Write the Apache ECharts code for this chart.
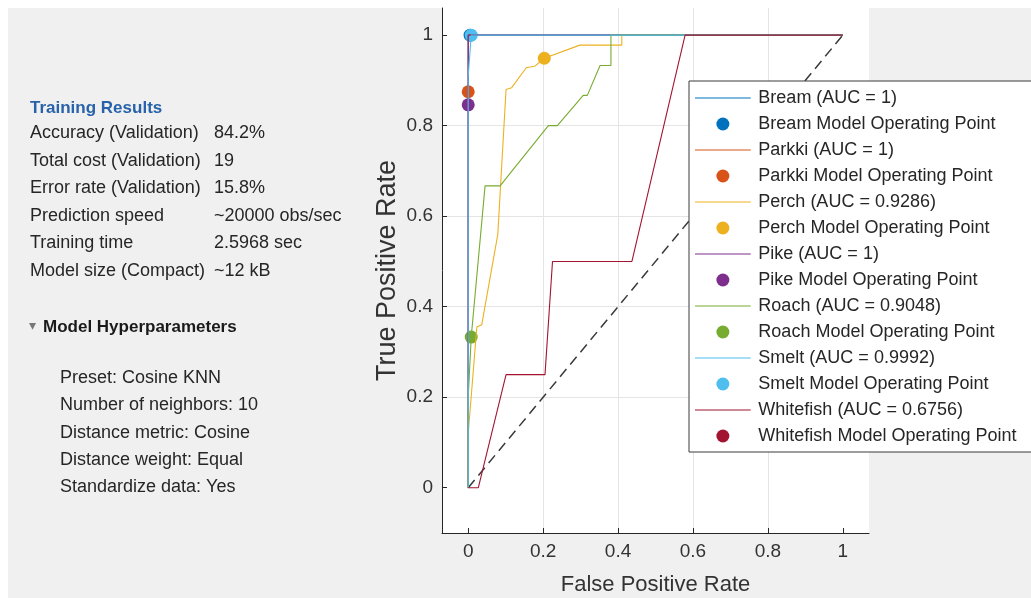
<!DOCTYPE html>
<html>
<head>
<meta charset="utf-8">
<script src="https://cdn.jsdelivr.net/npm/echarts@6/dist/echarts.min.js"></script>
<style>
  html, body { margin: 0; padding: 0; background: #fff; }
  #chart { width: 1031px; height: 598px; }
</style>
</head>
<body>
<div id="chart"></div>
<script>
// classes and their AUC (as shown in the legend)
const classNames = ['Bream', 'Parkki', 'Perch', 'Pike', 'Roach', 'Smelt', 'Whitefish'];
const aucValues = ['1', '1', '0.9286', '1', '0.9048', '0.9992', '0.6756'];

// ROC curves, [FPR, TPR]
const breamRoc = [[0, 0], [0, 1], [1, 1]];
const parkkiRoc = [[0, 0], [0, 1], [1, 1]];
const perchRoc = [[0, 0], [0, 0.12], [0.023, 0.355], [0.036, 0.36], [0.079, 0.56], [0.101, 0.88],
  [0.116, 0.884], [0.155, 0.928], [0.179, 0.932], [0.203, 0.949], [0.298, 0.978], [0.41, 0.978],
  [0.41, 1], [1, 1]];
const pikeRoc = [[0, 0], [0, 1], [1, 1]];
const roachRoc = [[0, 0], [0, 0.2], [0.008, 0.333], [0.045, 0.667], [0.085, 0.667], [0.214, 0.8],
  [0.238, 0.8], [0.307, 0.867], [0.318, 0.867], [0.352, 0.933], [0.381, 0.933], [0.381, 1], [1, 1]];
const smeltRoc = [[0, 0], [0, 0.91], [0.008, 1], [1, 1]];
const whitefishRoc = [[0, 0], [0.027, 0], [0.101, 0.25], [0.205, 0.25], [0.225, 0.5], [0.437, 0.5],
  [0.579, 1], [1, 1]];

// model operating points (Whitefish one is not visible in the plot)
const operatingPoints = [[0.005, 1], [0, 0.875], [0.203, 0.949], [0, 0.846], [0.008, 0.333], [0.008, 1], null];

const chanceLine = [[0, 0], [1, 1]];
const tickValues = [0, 0.2, 0.4, 0.6, 0.8, 1];

// side panel text
const trainingLabels = ['Accuracy (Validation)', 'Total cost (Validation)', 'Error rate (Validation)',
  'Prediction speed', 'Training time', 'Model size (Compact)'];
const trainingValues = ['84.2%', '19', '15.8%', '~20000 obs/sec', '2.5968 sec', '~12 kB'];
const hyperparameterLines = ['Preset: Cosine KNN', 'Number of neighbors: 10', 'Distance metric: Cosine',
  'Distance weight: Equal', 'Standardize data: Yes'];

const rocCurves = [breamRoc, parkkiRoc, perchRoc, pikeRoc, roachRoc, smeltRoc, whitefishRoc];
const classColors = ['#0072BD', '#D95319', '#EDB120', '#7E2F8E', '#77AC30', '#4DBEEE', '#A2142F'];

const fontFamily = '"Liberation Sans", Arial, sans-serif';
// thin horizontal bar; the two empty moves keep the bounding box 60x14 so it is not stretched
const lineIcon = 'path://M0,0L0,0M0,6.4L60,6.4L60,7.6L0,7.6ZM60,14L60,14';
const chart = echarts.init(document.getElementById('chart'));

const series = [{
  name: 'chance',
  type: 'line',
  data: chanceLine,
  symbol: 'none',
  silent: true,
  lineStyle: { color: '#3a3a3a', width: 1.5, type: [10, 6] }
}];
const legendData = [];

classNames.forEach((name, i) => {
  const lineName = `${name} (AUC = ${aucValues[i]})`;
  const pointName = `${name} Model Operating Point`;
  legendData.push({ name: lineName, icon: lineIcon }, { name: pointName, icon: 'circle' });
  series.push({
    name: lineName,
    type: 'line',
    data: rocCurves[i],
    symbol: 'none',
    color: classColors[i],
    itemStyle: { color: classColors[i] },
    lineStyle: { color: classColors[i], width: 1.1 }
  });
  series.push({
    name: pointName,
    type: 'scatter',
    data: operatingPoints[i] ? [operatingPoints[i]] : [],
    symbol: 'circle',
    symbolSize: 13,
    color: classColors[i],
    itemStyle: { color: classColors[i], opacity: 1 }
  });
});

const graphic = [
  { type: 'rect', shape: { x: 0, y: 0, width: 1031, height: 8 }, style: { fill: '#fff' }, silent: true },
  { type: 'rect', shape: { x: 0, y: 0, width: 8, height: 598 }, style: { fill: '#fff' }, silent: true },
  {
    type: 'text', x: 30, y: 108,
    style: { text: 'Training Results', font: `bold 17px ${fontFamily}`, fill: '#2762aa', verticalAlign: 'middle' }
  }
];
trainingLabels.forEach((label, i) => {
  const y = 133 + i * 27.6;
  graphic.push({
    type: 'text', x: 30, y: y,
    style: { text: label, font: `18px ${fontFamily}`, fill: '#262626', verticalAlign: 'middle' }
  });
  graphic.push({
    type: 'text', x: 214, y: y,
    style: { text: trainingValues[i], font: `18px ${fontFamily}`, fill: '#262626', verticalAlign: 'middle' }
  });
});
graphic.push({
  type: 'text', x: 29, y: 326,
  style: { text: '▾', font: `14px "DejaVu Sans"`, fill: '#777', verticalAlign: 'middle' }
});
graphic.push({
  type: 'text', x: 43, y: 327,
  style: { text: 'Model Hyperparameters', font: `bold 17px ${fontFamily}`, fill: '#1a1a1a', verticalAlign: 'middle' }
});
hyperparameterLines.forEach((line, i) => {
  graphic.push({
    type: 'text', x: 60, y: 378 + i * 27.3,
    style: { text: line, font: `18px ${fontFamily}`, fill: '#262626', verticalAlign: 'middle' }
  });
});

const axisCommon = {
  type: 'value',
  axisLine: { show: true, onZero: false, lineStyle: { color: '#262626', width: 1 } },
  axisTick: { show: true, inside: true, length: 5, customValues: tickValues, lineStyle: { color: '#262626' } },
  axisLabel: { customValues: tickValues, fontSize: 19, color: '#333', fontFamily: fontFamily, margin: 9 },
  splitLine: {
    show: true, customValues: tickValues, showMinLine: false, showMaxLine: false,
    lineStyle: { color: '#e4e4e4', width: 1 }
  },
  nameLocation: 'middle'
};

const option = {
  animation: false,
  backgroundColor: '#f0f0f0',
  textStyle: { fontFamily: fontFamily },
  grid: {
    left: 442, right: 162, top: 8, bottom: 65,
    outerBoundsMode: 'none',
    show: true, backgroundColor: '#fff', borderWidth: 0
  },
  xAxis: Object.assign({}, axisCommon, {
    name: 'False Positive Rate', nameGap: 41, min: -0.07, max: 1.07,
    nameTextStyle: { fontSize: 22, color: '#333', fontFamily: fontFamily }
  }),
  yAxis: Object.assign({}, axisCommon, {
    name: 'True Positive Rate', nameGap: 41, min: -0.1, max: 1.06,
    nameTextStyle: { fontSize: 27, color: '#333', fontFamily: fontFamily }
  }),
  legend: {
    data: legendData,
    orient: 'vertical',
    left: 689,
    top: 81,
    itemWidth: 61,
    itemHeight: 13,
    itemGap: 8,
    padding: [8, 40, 7, 6],
    backgroundColor: '#fff',
    borderColor: '#3a3a3a',
    borderWidth: 1,
    borderRadius: 0,
    selectedMode: false,
    textStyle: { fontSize: 18, color: '#262626', fontFamily: fontFamily, lineHeight: 18 }
  },
  graphic: graphic,
  series: series
};

chart.setOption(option);
window.addEventListener('resize', () => chart.resize());
</script>
</body>
</html>
